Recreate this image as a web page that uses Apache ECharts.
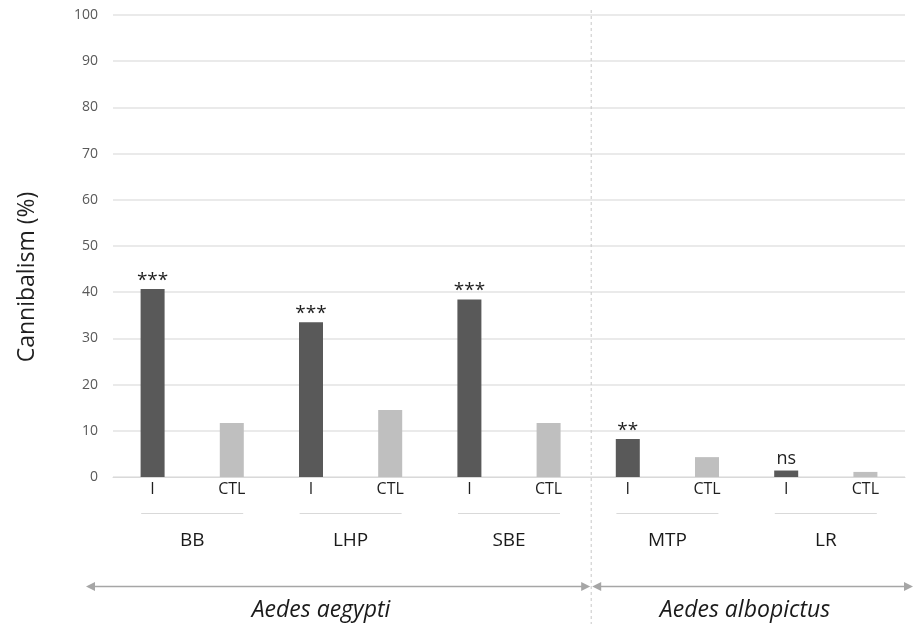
<!DOCTYPE html>
<html>
<head>
<meta charset="utf-8">
<script src="https://cdn.jsdelivr.net/npm/echarts@6/dist/echarts.min.js"></script>
<style>html,body{margin:0;padding:0;background:#fff}#c{width:915px;height:624px}</style>
</head>
<body>
<div id="c"></div>
<script>
var categories = ['I','CTL','I','CTL','I','CTL','I','CTL','I','CTL'];
var values = [40.7, 11.7, 33.5, 14.5, 38.4, 11.7, 8.2, 4.3, 1.4, 1.1];
var signif = ['***','','***','','***','','**','','ns',''];
var groups = ['BB','LHP','SBE','MTP','LR'];
var species = ['Aedes aegypti','Aedes albopictus'];
var yTicks = [0,10,20,30,40,50,60,70,80,90,100];

var FONT = '"Open Sans", "Noto Sans", sans-serif';
var chart = echarts.init(document.getElementById('c'));
var dark = '#595959', light = '#bfbfbf';

chart.setOption({
  animation: false,
  grid: {left: 113, right: 10, top: 15, bottom: 147},
  xAxis: {
    type: 'category', data: categories,
    axisLine: {lineStyle: {color: '#d9d9d9'}},
    axisTick: {show: false},
    axisLabel: {color: '#1f1f1f', fontSize: 16, margin: 4, fontFamily: FONT}
  },
  yAxis: {
    type: 'value', min: 0, max: 100, interval: 10,
    axisLine: {show: false}, axisTick: {show: false},
    splitLine: {lineStyle: {color: '#e3e3e3', width: 1.5}},
    axisLabel: {color: '#595959', fontSize: 14, margin: 15, fontFamily: FONT,
      formatter: function(v){ return yTicks.indexOf(v) >= 0 ? String(v) : ''; }}
  },
  series: [{
    type: 'bar', barWidth: 24,
    data: values.map(function(v, i){
      var ns = signif[i] === 'ns';
      return {value: v, itemStyle: {color: i % 2 === 0 ? dark : light},
        label: {show: !!signif[i], formatter: signif[i],
          fontSize: ns ? 18 : 19, distance: ns ? 3 : -1}};
    }),
    label: {position: 'top', color: '#1f1f1f', fontFamily: FONT}
  }]
});

function drawExtras(){
  var g = [];
  var cx = function(i){ return chart.convertToPixel({xAxisIndex:0}, i); };
  var step = cx(1) - cx(0);
  groups.forEach(function(name, k){
    var c = (cx(2*k) + cx(2*k+1)) / 2;
    g.push({type:'line', shape:{x1:c-51, y1:513.5, x2:c+51, y2:513.5}, style:{stroke:'#d9d9d9', lineWidth:1.2}});
    g.push({type:'text', x:c, y:541, style:{text:name, fontSize:19, fontFamily:FONT, fill:'#1a1a1a', textAlign:'center', textVerticalAlign:'middle'}});
  });
  var bx = cx(5) + step/2 + 3;
  g.push({type:'line', shape:{x1:bx, y1:10, x2:bx, y2:624}, style:{stroke:'#c8c8c8', lineWidth:1, lineDash:[3,3]}});
  var ay = 586.5, col = '#a6a6a6';
  var segs = [[86, bx-1], [bx+1, 913]];
  segs.forEach(function(s){
    g.push({type:'line', shape:{x1:s[0]+8, y1:ay, x2:s[1]-8, y2:ay}, style:{stroke:col, lineWidth:1.3}});
    g.push({type:'polygon', shape:{points:[[s[0],ay],[s[0]+9,ay-4.5],[s[0]+9,ay+4.5]]}, style:{fill:col}});
    g.push({type:'polygon', shape:{points:[[s[1],ay],[s[1]-9,ay-4.5],[s[1]-9,ay+4.5]]}, style:{fill:col}});
  });
  var spCenters = [321, 745];
  species.forEach(function(name, k){
    g.push({type:'text', x:spCenters[k], y:610, style:{text:name, fontSize:23, fontStyle:'italic', fontFamily:FONT, fill:'#1a1a1a', textAlign:'center', textVerticalAlign:'middle'}});
  });
  g.push({type:'text', x:27, y:277, rotation:Math.PI/2, style:{text:'Cannibalism (%)', fontSize:23, fontFamily:FONT, fill:'#1f1f1f', textAlign:'center', textVerticalAlign:'middle'}});
  chart.setOption({graphic: g});
}
drawExtras();
</script>
</body>
</html>
